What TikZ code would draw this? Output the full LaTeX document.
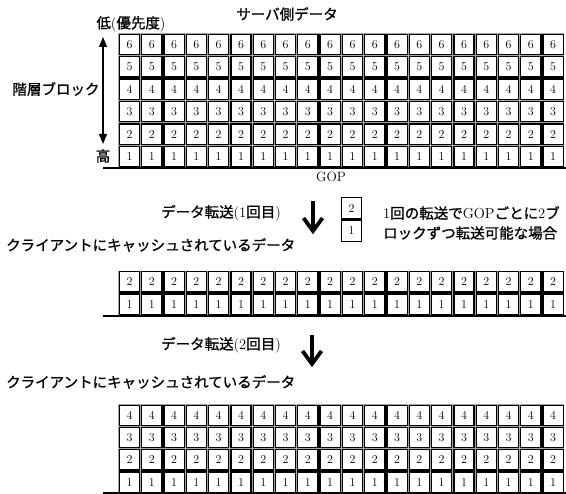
\documentclass[tikz,border=0pt]{standalone}
\usepackage{fontspec}
\newfontfamily\jpfont[FakeBold=1]{Noto Sans CJK JP}
\newcommand{\jpt}[1]{{\jpfont #1}}
\usetikzlibrary{arrows.meta}
\begin{document}
\begin{tikzpicture}[x=1pt,y=-1pt,
  cell/.style={draw=black,line width=1.3pt,fill=white,minimum width=20.2pt,minimum height=20.3pt,inner sep=0pt,font=\fontsize{12}{13}\selectfont},
  gridbg/.style={fill=gray!70},
  txt/.style={inner sep=0pt,font=\fontsize{14.5}{17}\selectfont},
  basel/.style={line width=1.9pt},
  bigarrow/.style={line width=3.8pt,line join=miter,line cap=butt},
  sidearrow/.style={line width=1.2pt,{Triangle[length=10pt,width=8pt]}-{Triangle[length=10pt,width=8pt]}}]
\useasboundingbox (0,0) rectangle (566,494);

% top grid
\fill[gridbg] (118.3,33.3) rectangle (564.3,167.7);
\foreach \r in {1,...,6}
  \foreach \c in {0,...,19}
    \node[cell] (s-\r-\c) at ({118.3+22.3*(\c+0.5)},{167.7-22.4*(\r-0.5)}) {\r};
\coordinate (b1l) at (103,168.3);
\coordinate (b1r) at (566,168.3);
\draw[basel] (b1l) -- (b1r);

% second grid
\fill[gridbg] (118.3,270.7) rectangle (564.3,315.5);
\foreach \r in {1,2}
  \foreach \c in {0,...,19}
    \node[cell] (m-\r-\c) at ({118.3+22.3*(\c+0.5)},{315.5-22.4*(\r-0.5)}) {\r};
\coordinate (b2l) at (103,316.1);
\coordinate (b2r) at (566,316.1);
\draw[basel] (b2l) -- (b2r);

% third grid
\fill[gridbg] (118.3,404.3) rectangle (564.3,493.3);
\foreach \r in {1,...,4}
  \foreach \c in {0,...,19}
    \node[cell] (l-\r-\c) at ({118.3+22.3*(\c+0.5)},{493.3-22.25*(\r-0.5)}) {\r};
\coordinate (b3l) at (103,493.4);
\coordinate (b3r) at (566,493.4);
\draw[basel] (b3l) -- (b3r);

% labels of top grid
\node[txt] (title) at (287,14) {\jpt{サーバ側データ}};
\node[txt] (low) at (131,24) {\jpt{低}(\jpt{優先度})};
\node[txt] (high) at (103,156) {\jpt{高}};
\node[txt] (layer) at (56,89) {\jpt{階層ブロック}};
\coordinate (atop) at (103,37);
\coordinate (abot) at (103,144);
\draw[sidearrow] (atop) -- (abot);
\node[inner sep=0pt,font=\fontsize{13.5}{15}\selectfont] (gop) at (331,177) {GOP};

% first transfer
\node[txt] (tr1) at (221,213) {\jpt{データ転送}(1\jpt{回目})};
\coordinate (d1s) at (313,201);
\coordinate (d1e) at (313,231);
\draw[bigarrow] (d1s) -- (d1e);
\draw[bigarrow] (d1e) ++(-9.5,-13) -- (d1e) -- ++(9.5,-13);
\node[cell,minimum width=20pt,minimum height=21.4pt] (k2) at (351.5,208.4) {2};
\node[cell,minimum width=20pt,minimum height=21.4pt] (k1) at (351.5,230.8) {1};
\node[txt,anchor=west] (note1) at (383,213) {1\jpt{回の転送で}GOP\jpt{ごとに}2\jpt{ブ}};
\node[txt,anchor=west] (note2) at (383,233) {\jpt{ロックずつ転送可能な場合}};
\node[txt,anchor=west] (cache1) at (6,245) {\jpt{クライアントにキャッシュされているデータ}};

% second transfer
\node[txt] (tr2) at (221,345) {\jpt{データ転送}(2\jpt{回目})};
\coordinate (d2s) at (312,335);
\coordinate (d2e) at (312,364);
\draw[bigarrow] (d2s) -- (d2e);
\draw[bigarrow] (d2e) ++(-9.5,-13) -- (d2e) -- ++(9.5,-13);
\node[txt,anchor=west] (cache2) at (6,382) {\jpt{クライアントにキャッシュされているデータ}};
\end{tikzpicture}
\end{document}
